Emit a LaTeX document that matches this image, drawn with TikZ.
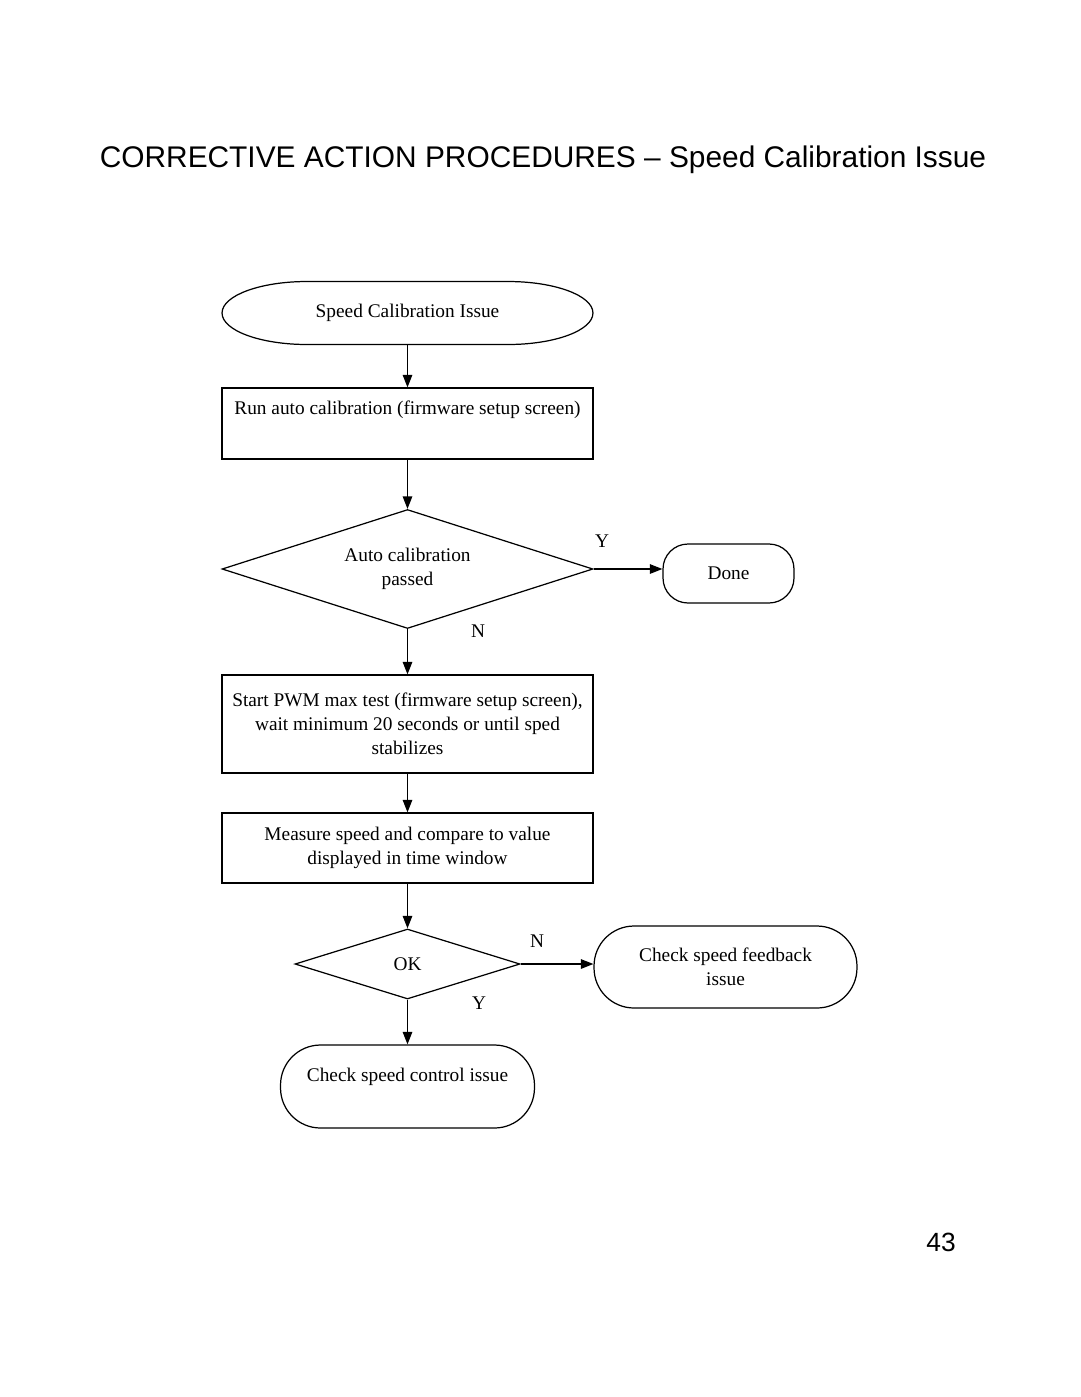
\documentclass[tikz,border=0pt]{standalone}
\usepackage{fontspec}
\setmainfont{Liberation Serif}
\newfontfamily\headfont{Liberation Sans}
\usetikzlibrary{shapes.geometric}
\usetikzlibrary{arrows.meta}

\tikzset{
  txt/.style={font=\fontsize{11}{13.6}\selectfont, align=center},
  box/.style={txt, draw, rectangle, minimum width=7.42cm, inner sep=0pt},
  test/.style={txt, draw, diamond, inner sep=0pt},
  stop/.style={txt, draw, rectangle, inner sep=0pt},
  flow/.style={-{Triangle[length=0.25cm,width=0.19cm]}},
  yn/.style={txt}
}

\begin{document}
\begin{tikzpicture}[x=0.02cm,y=-0.02cm,line width=0.7pt]
\useasboundingbox (0,0) rectangle (1080,1397);
% page heading
\node[font=\headfont\fontsize{17}{20}\selectfont] (head) at (543,160) {CORRECTIVE ACTION PROCEDURES – Speed Calibration Issue};
% start, with elliptic ends
\node[txt, minimum width=7.42cm, minimum height=1.26cm, inner sep=0pt, outer sep=0pt] (start) at (407.5,313) {Speed Calibration Issue};
\draw ([xshift=1.7cm]start.north west) -- ([xshift=-1.7cm]start.north east)
  arc[start angle=90, end angle=-90, x radius=1.7cm, y radius=0.63cm]
  -- ([xshift=1.7cm]start.south west)
  arc[start angle=270, end angle=90, x radius=1.7cm, y radius=0.63cm] -- cycle;
% the boxes
\node[box, minimum height=1.42cm] (run) at (407.5,423.5) {Run auto calibration (firmware setup screen)\\\strut};
\node[test, minimum width=7.42cm, minimum height=2.38cm, aspect=3.1] (auto) at (407.5,569) {Auto calibration\\passed};
\node[stop, minimum width=2.62cm, minimum height=1.18cm, rounded corners=0.5cm] (done) at (728.5,573.5) {Done};
\node[box, minimum height=1.96cm] (pwm) at (407.5,724) {Start PWM max test (firmware setup screen),\\wait minimum 20 seconds or until sped\\stabilizes};
\node[box, minimum height=1.4cm] (measure) at (407.5,848) {Measure speed and compare to value\\displayed in time window};
\node[test, minimum width=4.5cm, minimum height=1.4cm, aspect=3.2] (ok) at (407.5,964) {OK};
\node[stop, minimum width=5.26cm, minimum height=1.64cm, rounded corners=0.8cm] (feedback) at (725.5,967) {Check speed feedback\\issue};
\node[stop, minimum width=5.08cm, minimum height=1.66cm, rounded corners=0.8cm] (control) at (407.5,1086.5) {Check speed control issue\\\mbox{}};
% connectors
\draw[flow] (start) -- (run);
\draw[flow] (run) -- (auto);
\draw[flow] (auto.east) -- (auto.east -| done.west);
\draw[flow] (auto) -- (pwm);
\draw[flow] (pwm) -- (measure);
\draw[flow] (measure) -- (ok);
\draw[flow] (ok.east) -- (ok.east -| feedback.west);
\draw[flow] (ok) -- (control);
% Y / N
\node[yn] (y1) at (602,541) {Y};
\node[yn] (n1) at (478,631) {N};
\node[yn] (n2) at (537,941) {N};
\node[yn] (y2) at (479,1003) {Y};
% page number
\node[font=\headfont\fontsize{15}{18}\selectfont] (page) at (941,1242) {43};
\end{tikzpicture}
\end{document}
